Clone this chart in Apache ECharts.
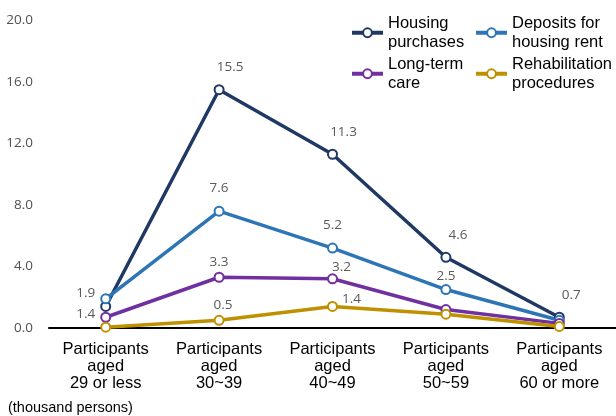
<!DOCTYPE html>
<html>
<head>
<meta charset="utf-8">
<script src="https://cdn.jsdelivr.net/npm/echarts@6/dist/echarts.min.js"></script>
<style>
  html, body { margin: 0; padding: 0; background: #fff; }
  #chart { width: 616px; height: 416px; }
</style>
</head>
<body>
<div id="chart"></div>
<script>
// Age groups of participants
const categories = [
  'Participants\naged\n29 or less',
  'Participants\naged\n30~39',
  'Participants\naged\n40~49',
  'Participants\naged\n50~59',
  'Participants\naged\n60 or more'
];

// Withdrawals by purpose (thousand persons)
const housingPurchases = [1.4, 15.5, 11.3, 4.6, 0.7];
const housingRentDeposits = [1.9, 7.6, 5.2, 2.5, 0.5];
const longTermCare = [0.7, 3.3, 3.2, 1.2, 0.3];
const rehabilitation = [0.05, 0.5, 1.4, 0.9, 0.1];

// Which points carry a value label
const housingLabelled = [true, true, true, true, true];
const rentLabelled = [true, true, true, true, false];
const careLabelled = [false, true, true, false, false];
const rehabLabelled = [false, true, true, false, false];

const yTicks = { min: 0, max: 20, interval: 4 };
const unitText = '(thousand persons)';

const FONT = '"Liberation Sans", Arial, sans-serif';
const LABEL_FONT = '"Open Sans", "Liberation Sans", sans-serif';

const COLORS = {
  housing: '#203864',
  rent: '#2e75b6',
  care: '#7030a0',
  rehab: '#bf9000'
};

function labelled(values, flags, perPoint) {
  return values.map((v, i) => {
    const item = { value: v };
    if (!flags[i]) {
      item.label = { show: false };
    } else if (perPoint && perPoint[i]) {
      item.label = Object.assign({ show: true }, perPoint[i]);
    }
    return item;
  });
}

const baseLabel = {
  show: true,
  position: 'top',
  distance: 5,
  color: '#595959',
  fontSize: 13.5,
  fontFamily: LABEL_FONT,
  formatter: p => p.value.toFixed(1)
};

function makeSeries(name, color, data) {
  return {
    name: name,
    type: 'line',
    data: data,
    symbol: 'emptyCircle',
    symbolSize: 9,
    lineStyle: { color: color, width: 3.5 },
    itemStyle: { color: color, borderColor: color, borderWidth: 2.6 },
    label: Object.assign({}, baseLabel),
    emphasis: { disabled: true },
    z: 2
  };
}

const series = [
  makeSeries('Housing\npurchases', COLORS.housing,
    labelled(housingPurchases, housingLabelled, [
      { position: 'left', distance: 5, offset: [0, 8] },
      { offset: [11, -5] },
      { offset: [11, -5] },
      { offset: [12, -5] },
      { offset: [12, -5] }
    ])),
  makeSeries('Deposits for\nhousing rent', COLORS.rent,
    labelled(housingRentDeposits, rentLabelled, [
      { position: 'left', distance: 5, offset: [0, -6] },
      { offset: [0, -5] },
      { offset: [0, -5] },
      { offset: [0, 4] },
      null
    ])),
  makeSeries('Long-term\ncare', COLORS.care,
    labelled(longTermCare, careLabelled, [
      null,
      { offset: [0, 2] },
      { offset: [9, 6] },
      null,
      null
    ])),
  makeSeries('Rehabilitation\nprocedures', COLORS.rehab,
    labelled(rehabilitation, rehabLabelled, [
      null,
      { offset: [4, 2] },
      { position: 'right', distance: 4, offset: [0, -7] },
      null,
      null
    ]))
];

function legendAt(name, left, top) {
  return {
    data: [name],
    left: left,
    top: top,
    padding: 0,
    itemWidth: 31,
    itemHeight: 11,
    itemGap: 0,
    selectedMode: false,
    lineStyle: { width: 4 },
    itemStyle: { borderWidth: 2.6 },
    textStyle: {
      fontFamily: FONT,
      fontSize: 16.5,
      lineHeight: 18.5,
      color: '#000',
      padding: [18.5, 0, 0, 0]
    }
  };
}

const chart = echarts.init(document.getElementById('chart'), null, { renderer: 'canvas' });
chart.setOption({
  animation: false,
  backgroundColor: '#fff',
  grid: { left: 49, width: 570, top: 20.5, bottom: 88, containLabel: false },
  legend: [
    legendAt('Housing\npurchases', 350, 5),
    legendAt('Deposits for\nhousing rent', 474, 5),
    legendAt('Long-term\ncare', 350, 46),
    legendAt('Rehabilitation\nprocedures', 474, 46)
  ],
  xAxis: {
    type: 'category',
    data: categories,
    boundaryGap: true,
    axisLine: { show: true, lineStyle: { color: '#000', width: 2 } },
    axisTick: { show: false },
    axisLabel: {
      interval: 0,
      margin: 13,
      color: '#000',
      fontFamily: FONT,
      fontSize: 16.5,
      lineHeight: 17
    },
    splitLine: { show: false }
  },
  yAxis: {
    type: 'value',
    min: yTicks.min,
    max: yTicks.max,
    interval: yTicks.interval,
    axisLine: { show: false },
    axisTick: { show: false },
    splitLine: { show: false },
    axisLabel: {
      margin: 16,
      color: '#505050',
      fontFamily: LABEL_FONT,
      fontSize: 13.5,
      formatter: v => v.toFixed(1)
    }
  },
  graphic: [{
    type: 'text',
    left: 8,
    top: 400,
    style: {
      text: unitText,
      fontFamily: FONT,
      fontSize: 14.5,
      fill: '#000'
    }
  }],
  series: series
});
</script>
</body>
</html>
